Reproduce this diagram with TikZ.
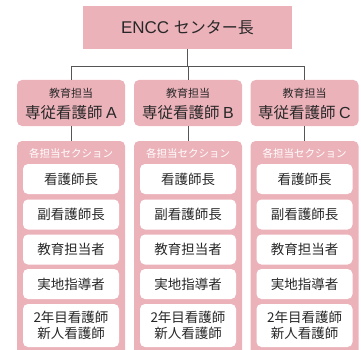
\documentclass[tikz,border=0pt]{standalone}
\usepackage{fontspec}
\setmainfont{Liberation Sans}
\newfontfamily\jp{Noto Sans CJK JP}
\definecolor{pk}{RGB}{236,178,186}
\definecolor{ln}{RGB}{85,85,85}
\definecolor{tx}{RGB}{40,40,40}
\begin{document}
\begin{tikzpicture}[x=1pt,y=-1pt,
  topbox/.style={fill=pk,draw=none,minimum width=209pt,minimum height=43pt,inner sep=0pt},
  midbox/.style={fill=pk,draw=none,rounded corners=5pt,minimum width=108pt,minimum height=46pt,inner sep=0pt},
  panel/.style={fill=pk,draw=none,rounded corners=5pt,minimum width=108pt,minimum height=230pt,inner sep=0pt},
  itembox/.style={fill=white,draw=none,rounded corners=5pt,minimum width=96pt,minimum height=30pt,inner sep=0pt,
    text=tx,font=\jp\fontsize{13.5}{15.5}\selectfont,align=center},
  conn/.style={draw=ln,line width=0.9pt},
  lbl/.style={inner sep=0pt,text=tx}
]
\useasboundingbox (0,0) rectangle (361,350);
\clip (0,0) rectangle (361,350);
% top box
\node[topbox] (ceo) at (187.5,27.5) {};
\node[lbl,font=\fontsize{17}{20}\selectfont] (ceot) at (187.5,28) {ENCC {\jp\fontsize{16}{20}\selectfont センター長}};
\coordinate (j) at (187.5,66);
\foreach \n/\x/\L in {a/71/A,b/188/B,c/304.5/C}{
  \node[midbox] (m\n) at (\x,103) {};
  \node[panel] (p\n) at (\x,256) {};
  \node[lbl,font=\jp\fontsize{11}{13}\selectfont] (m\n t1) at (\x,93) {教育担当};
  \node[lbl,font=\jp\fontsize{15.5}{18}\selectfont] (m\n t2) at (\x,112.5) {専従看護師 {\rmfamily\fontsize{16}{18}\selectfont \L}};
  \node[lbl,text=white,font=\jp\fontsize{10.5}{12}\selectfont] (p\n h) at (\x,153) {各担当セクション};
  \node[itembox] (\n1) at (\x,179) {看護師長};
  \node[itembox] (\n2) at (\x,214.5) {副看護師長};
  \node[itembox] (\n3) at (\x,249.5) {教育担当者};
  \node[itembox] (\n4) at (\x,284) {実地指導者};
  \node[itembox,minimum height=43pt] (\n5) at (\x,325.5) {2年目看護師\\新人看護師};
  \draw[conn] (j -| m\n) -- (m\n);
  \draw[conn] (m\n) -- (p\n);
}
\draw[conn] (ceo) -- (j);
\draw[conn] (j -| ma) -- (j -| mc);
\end{tikzpicture}
\end{document}
